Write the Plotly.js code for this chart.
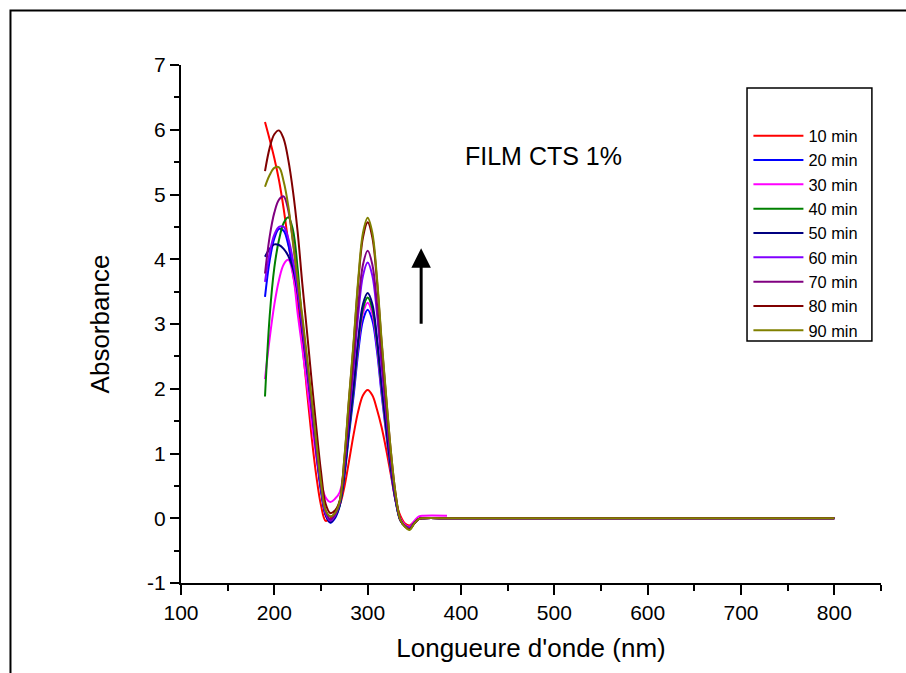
<!DOCTYPE html>
<html>
<head>
<meta charset="utf-8">
<script src="https://cdn.plot.ly/plotly-3.0.1.min.js"></script>
<style>
  html, body { margin: 0; padding: 0; background: #fff; }
  #chart { width: 906px; height: 673px; }
</style>
</head>
<body>
<div id="chart"></div>
<script>
// Wavelength grid (nm)
const wavelength = [190,195,200,205,210,215,220,225,230,235,240,245,250,255,
  260,265,270,275,280,285,290,295,300,305,310,315,320,325,330,335,340,345,350,355,360,
  385,400,500,600,700,800];

// Absorbance per exposure time
const abs10 = [6.12,5.85,5.56,5.22,4.78,4.26,3.78,3.32,2.70,1.96,1.25,0.65,0.20,-0.04,
  0.00,0.08,0.20,0.48,0.88,1.30,1.66,1.90,1.98,1.90,1.68,1.40,1.05,0.66,0.27,0.04,-0.08,-0.11,-0.05,-0.01,0,
  0,0,0,0,0,0];
const abs20 = [3.42,3.98,4.32,4.47,4.44,4.22,3.85,3.50,2.90,2.33,1.70,1.00,0.42,0.05,
  -0.07,0.00,0.19,0.64,1.29,1.90,2.58,3.06,3.22,3.06,2.58,1.90,1.29,0.71,0.26,-0.03,-0.12,-0.15,-0.07,-0.01,0,
  0,0,0,0,0,0];
const abs30 = [2.15,2.78,3.30,3.68,3.92,3.99,3.76,3.16,2.62,2.05,1.47,0.95,0.55,0.32,
  0.25,0.30,0.40,0.80,1.40,2.00,2.68,3.17,3.33,3.16,2.66,1.96,1.33,0.73,0.27,0.00,-0.10,-0.13,-0.04,0.03,0.04,
  0.04];
const abs40 = [1.88,3.12,3.87,4.30,4.56,4.65,4.45,3.85,3.00,2.33,1.72,1.08,0.48,0.06,
  -0.05,0.02,0.20,0.68,1.36,2.01,2.73,3.24,3.41,3.24,2.73,2.01,1.36,0.75,0.27,-0.03,-0.12,-0.15,-0.07,-0.01,0,
  0,0,0,0,0,0];
const abs50 = [4.04,4.16,4.23,4.22,4.16,4.05,3.85,3.48,2.90,2.30,1.68,1.02,0.45,0.05,
  -0.06,0.02,0.21,0.70,1.39,2.05,2.78,3.31,3.48,3.31,2.78,2.05,1.39,0.77,0.28,-0.03,-0.12,-0.15,-0.07,-0.01,0,
  0,0,0,0,0,0];
const abs60 = [3.65,4.10,4.38,4.50,4.50,4.32,3.98,3.52,2.95,2.36,1.72,1.06,0.47,0.07,
  -0.04,0.04,0.24,0.79,1.58,2.33,3.16,3.75,3.95,3.75,3.16,2.33,1.58,0.87,0.32,-0.02,-0.12,-0.15,-0.07,-0.01,0,
  0,0,0,0,0,0];
const abs70 = [3.78,4.35,4.72,4.92,4.97,4.75,4.28,3.65,3.05,2.42,1.78,1.12,0.52,0.12,
  -0.02,0.06,0.25,0.83,1.65,2.44,3.30,3.92,4.13,3.92,3.30,2.44,1.65,0.91,0.33,-0.02,-0.12,-0.16,-0.08,-0.01,0,
  0,0,0,0,0,0];
const abs80 = [5.36,5.72,5.93,5.99,5.86,5.53,5.05,4.42,3.62,2.88,2.12,1.40,0.72,0.22,
  0.08,0.12,0.27,0.91,1.83,2.70,3.66,4.34,4.57,4.34,3.66,2.70,1.83,1.01,0.37,-0.02,-0.13,-0.17,-0.08,-0.01,0,
  0,0,0,0,0,0];
const abs90 = [5.12,5.30,5.41,5.42,5.20,4.82,4.25,3.68,3.12,2.50,1.85,1.18,0.55,0.12,
  0.03,0.08,0.26,0.93,1.86,2.74,3.71,4.41,4.64,4.41,3.71,2.74,1.86,1.02,0.37,-0.02,-0.13,-0.18,-0.08,-0.01,0,
  0,0,0,0,0,0];

const seriesNames = ['10 min','20 min','30 min','40 min','50 min','60 min','70 min','80 min','90 min'];
const seriesValues = [abs10, abs20, abs30, abs40, abs50, abs60, abs70, abs80, abs90];
const seriesColors = ['#ff0000','#0000ff','#ff00ff','#008000','#000080','#8000ff','#800080','#800000','#808000'];

// Axis ticks
const xTickVals = [100,200,300,400,500,600,700,800];
const xTickText = ['100','200','300','400','500','600','700','800'];
const yTickVals = [-1,0,1,2,3,4,5,6,7];
const yTickText = ['-1','0','1','2','3','4','5','6','7'];

const FONT = 'Liberation Sans, Arial, Helvetica, sans-serif';

const traces = seriesValues.map((vals, i) => ({
  type: 'scatter',
  mode: 'lines',
  name: seriesNames[i],
  x: wavelength.slice(0, vals.length),
  y: vals,
  line: { color: seriesColors[i], width: 2, shape: 'spline', smoothing: 1 }
}));

const layout = {
  width: 906,
  height: 673,
  margin: { l: 181, r: 25, t: 65, b: 90 },
  paper_bgcolor: '#ffffff',
  plot_bgcolor: '#ffffff',
  font: { family: FONT, color: '#000' },
  showlegend: true,
  xaxis: {
    range: [100, 850],
    tickmode: 'array', tickvals: xTickVals, ticktext: xTickText,
    ticks: 'outside', ticklen: 10, tickwidth: 2, tickcolor: '#000',
    showline: true, linewidth: 2, linecolor: '#000',
    showgrid: false, zeroline: false,
    tickfont: { size: 21, color: '#000' },
    minor: { tick0: 0, dtick: 50, ticks: 'outside', ticklen: 6, tickwidth: 2, tickcolor: '#000', showgrid: false },
    title: { text: "Longueure d'onde (nm)", font: { size: 26, color: '#000' }, standoff: 16 },
    automargin: false
  },
  yaxis: {
    range: [-1, 7],
    tickmode: 'array', tickvals: yTickVals, ticktext: yTickText,
    ticks: 'outside', ticklen: 9, tickwidth: 2, tickcolor: '#000',
    showline: true, linewidth: 2, linecolor: '#000',
    showgrid: false, zeroline: false,
    tickfont: { size: 21, color: '#000' },
    minor: { tick0: 0, dtick: 0.5, ticks: 'outside', ticklen: 5, tickwidth: 2, tickcolor: '#000', showgrid: false },
    title: { text: 'Absorbance', font: { size: 26, color: '#000' }, standoff: 30 },
    automargin: false
  },
  legend: {
    x: 0.8106, y: 0.8966, xanchor: 'left', yanchor: 'top',
    bgcolor: 'rgba(0,0,0,0)', borderwidth: 0,
    font: { size: 16.4, color: '#000', family: FONT },
    traceorder: 'normal',
    itemwidth: 50
  },
  shapes: [
    // legend frame
    { type: 'rect', xref: 'paper', yref: 'paper', x0: 0.8086, x1: 0.987, y0: 0.4672, y1: 0.9556,
      line: { color: '#000', width: 1.5 }, fillcolor: 'rgba(0,0,0,0)', layer: 'above' },
    // outer frame of the figure
    { type: 'rect', xref: 'paper', yref: 'paper', x0: -0.2436, x1: 1.2, y0: -0.3, y1: 1.1052,
      line: { color: '#000', width: 2 }, fillcolor: 'rgba(0,0,0,0)', layer: 'above' }
  ],
  annotations: [
    { xref: 'x', yref: 'y', x: 488, y: 5.59, text: 'FILM CTS 1%', showarrow: false,
      font: { size: 25, color: '#000', family: FONT } },
    { xref: 'x', yref: 'y', axref: 'x', ayref: 'y', x: 357.3, y: 4.17, ax: 357.3, ay: 2.98,
      text: '', showarrow: true, arrowhead: 2, arrowsize: 1.3, arrowwidth: 3, arrowcolor: '#000' }
  ]
};

Plotly.newPlot('chart', traces, layout, { staticPlot: true, displayModeBar: false });
</script>
</body>
</html>
